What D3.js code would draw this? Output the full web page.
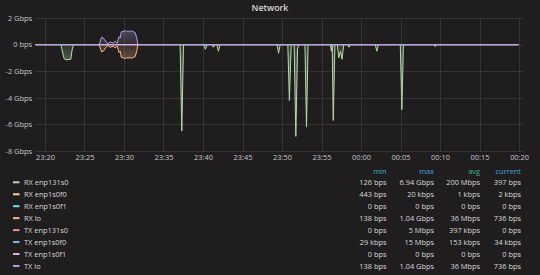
<!DOCTYPE html>
<html>
<head>
<meta charset="utf-8">
<script src="https://cdn.jsdelivr.net/npm/d3@7"></script>
<style>
  html, body { margin: 0; padding: 0; background: #1f1d1e; }
  svg { display: block; font-family: "Open Sans", sans-serif; }
</style>
</head>
<body>
<svg id="chart" width="540" height="275"></svg>
<script>
// ---------------- DATA ----------------
const title = "Network";
const seriesNames = ["RX enp131s0", "RX enp1s0f0", "RX enp1s0f1", "RX lo",
                     "TX enp131s0", "TX enp1s0f0", "TX enp1s0f1", "TX lo"];
// RX is drawn below zero, TX above
const seriesSign = [-1, -1, -1, -1, 1, 1, 1, 1];

// values in Gbps, [time, rate]
const rxEnp131s0 = [
  ["23:18:48",0],
  ["23:22:00",0],["23:22:07",0.3],["23:22:25",1.05],["23:22:40",1.15],["23:23:16",1.1],["23:23:26",0.4],["23:23:37",0],
  ["23:37:06",0],["23:37:19",6.5],["23:37:32",0],
  ["23:40:05",0],["23:40:18",0.35],["23:40:32",0],["23:41:08",0],["23:41:19",0.2],["23:41:30",0],["23:41:45",0],["23:41:57",0.5],["23:42:09",0],
  ["23:49:22",0],["23:49:34",0.65],["23:49:46",0],
  ["23:50:44",0],["23:50:56",4.2],["23:51:10",0],["23:51:32",0],["23:51:45",6.9],["23:51:58",0.3],["23:52:10",0],
  ["23:52:54",0],["23:53:06",6.2],["23:53:18",0],
  ["23:56:08",0],["23:56:15",0.5],["23:56:21",0],["23:56:29",5.7],["23:56:42",0],
  ["23:57:00",0],["23:57:11",1.0],["23:57:24",0.5],["23:57:36",1.1],["23:57:48",0],
  ["23:58:20",0],["23:58:29",0.2],["23:58:38",0],
  ["00:01:48",0],["00:02:00",0.5],["00:02:12",0],
  ["00:04:58",0],["00:05:10",4.9],["00:05:22",0],
  ["00:09:15",0],["00:09:24",0.15],["00:09:33",0],
  ["00:19:54",0]
];
const rxEnp1s0f0 = [["23:18:48",0],["00:19:54",0]];
const rxEnp1s0f1 = [["23:18:48",0],["00:19:54",0]];
const rxLo = [
  ["23:18:48",0],["23:26:51",0],["23:27:10",0.55],["23:27:22",0.5],["23:27:56",0.05],["23:28:15",0.2],
  ["23:28:38",0.12],["23:28:53",0.25],["23:29:08",0.1],["23:29:23",0.6],["23:29:32",0.5],["23:29:39",0.95],
  ["23:29:54",1.0],["23:30:10",1.05],["23:30:20",0.98],["23:30:30",1.04],["23:30:42",0.97],["23:30:55",1.03],
  ["23:31:08",0.98],["23:31:25",0.9],["23:31:37",0.5],["23:31:44",0.05],["23:31:56",0],["00:19:54",0]
];
const txEnp131s0 = [["23:18:48",0],["00:19:54",0]];
const txEnp1s0f0 = [["23:18:48",0],["00:19:54",0]];
const txEnp1s0f1 = [["23:18:48",0],["00:19:54",0]];
const txLo = rxLo;

const seriesValues = [rxEnp131s0, rxEnp1s0f0, rxEnp1s0f1, rxLo, txEnp131s0, txEnp1s0f0, txEnp1s0f1, txLo];

const statMin     = ["126 bps","443 bps","0 bps","138 bps","0 bps","29 kbps","0 bps","138 bps"];
const statMax     = ["6.94 Gbps","20 kbps","0 bps","1.04 Gbps","5 Mbps","15 Mbps","0 bps","1.04 Gbps"];
const statAvg     = ["200 Mbps","1 kbps","0 bps","36 Mbps","397 kbps","153 kbps","0 bps","36 Mbps"];
const statCurrent = ["397 bps","2 kbps","0 bps","736 bps","0 bps","34 kbps","0 bps","736 bps"];
const statHeaders = ["min","max","avg","current"];

const yTickValues = [2, 0, -2, -4, -6, -8];
const xTickLabels = ["23:20","23:25","23:30","23:35","23:40","23:45","23:50","23:55","00:00","00:05","00:10","00:15","00:20"];
const timeStart = "23:18:48", timeEnd = "00:20:30";

// ---------------- STYLE ----------------
const palette = ["#B7DBAB","#F4D598","#70DBED","#F9BA8F","#F29191","#82B5D8","#E5A8E2","#AEA2E0"];
const headerColors = ["#3fb6c4","#4aa6dc","#40b48c","#4aa6dc"];
const plot = {left: 35.5, right: 523, top: 18, bottom: 151};
const fontSize = 7.4;

// ---------------- DRAW ----------------
function parseT(s) {
  const parts = s.split(":").map(Number);
  const h = parts[0], m = parts[1], sec = parts[2] || 0;
  return new Date(2017, 0, h < 12 ? 2 : 1, h, m, sec);
}

const svg = d3.select("#chart");
svg.append("rect").attr("width", 540).attr("height", 275).attr("fill", "#1f1d1e");

const x = d3.scaleTime().domain([parseT(timeStart), parseT(timeEnd)]).range([plot.left, plot.right]);
const y = d3.scaleLinear().domain([-8, 2]).range([plot.bottom, plot.top]);

// title
svg.append("text").attr("x", 270).attr("y", 7.5)
  .attr("text-anchor", "middle").attr("dominant-baseline", "central")
  .attr("fill", "#d8d9da").attr("font-size", 8.8).attr("font-weight", 600)
  .text(title);

const xTicks = xTickLabels.map(parseT);

// grid
const grid = svg.append("g").attr("stroke", "#363436").attr("stroke-width", 1);
grid.selectAll("line.v").data(xTicks).join("line").attr("class", "v")
  .attr("x1", d => Math.round(x(d)) + 0.5).attr("x2", d => Math.round(x(d)) + 0.5)
  .attr("y1", plot.top).attr("y2", plot.bottom);
grid.selectAll("line.h").data(yTickValues).join("line").attr("class", "h")
  .attr("x1", plot.left).attr("x2", plot.right)
  .attr("y1", d => Math.round(y(d)) + 0.5).attr("y2", d => Math.round(y(d)) + 0.5);

// axes
const yAxis = d3.axisLeft(y).tickValues(yTickValues).tickSize(0).tickPadding(3.5)
  .tickFormat(v => v === 0 ? "0 bps" : v + " Gbps");
const gy = svg.append("g").attr("transform", `translate(${plot.left},0)`).call(yAxis);
gy.select(".domain").remove();
gy.selectAll("text").attr("fill", "#c8c8c8").attr("font-size", fontSize).attr("font-family", "Open Sans");

const xAxis = d3.axisBottom(x).tickValues(xTicks).tickSize(0).tickPadding(3.5)
  .tickFormat(d3.timeFormat("%H:%M"));
const gx = svg.append("g").attr("transform", `translate(0,${plot.bottom})`).call(xAxis);
gx.select(".domain").remove();
gx.selectAll("text").attr("fill", "#c8c8c8").attr("font-size", fontSize).attr("font-family", "Open Sans");

// series
const plotG = svg.append("g");
const defs = svg.append("defs");
seriesValues.forEach((vals, i) => {
  const pts = vals.map(([t, v]) => [parseT(t), seriesSign[i] * v]);
  const gradId = "g" + i;
  const grad = defs.append("linearGradient").attr("id", gradId)
    .attr("gradientUnits", "userSpaceOnUse")
    .attr("x1", 0).attr("x2", 0)
    .attr("y1", y(seriesSign[i] > 0 ? 1.1 : -1.1)).attr("y2", y(0));
  grad.append("stop").attr("offset", 0).attr("stop-color", palette[i]).attr("stop-opacity", 0.3);
  grad.append("stop").attr("offset", 1).attr("stop-color", palette[i]).attr("stop-opacity", 0.12);
  const area = d3.area().x(d => x(d[0])).y0(y(0)).y1(d => y(d[1]));
  plotG.append("path").datum(pts).attr("d", area).attr("fill", `url(#${gradId})`);
  const line = d3.line().x(d => x(d[0])).y(d => y(d[1]));
  plotG.append("path").datum(pts).attr("d", line)
    .attr("fill", "none").attr("stroke", palette[i]).attr("stroke-width", 1)
    .attr("stroke-linejoin", "round");
});

// legend
const colX = [386.5, 434, 480, 521];
const legend = svg.append("g").attr("font-size", fontSize);
legend.selectAll("text.h").data(statHeaders).join("text")
  .attr("x", (d, i) => colX[i]).attr("y", 170.7)
  .attr("text-anchor", "end").attr("dominant-baseline", "central")
  .attr("fill", (d, i) => headerColors[i]).text(d => d);

const stats = [statMin, statMax, statAvg, statCurrent];
seriesNames.forEach((name, i) => {
  const cy = 182.3 + i * 11.95;
  legend.append("rect").attr("x", 13).attr("y", cy - 1).attr("width", 6.5).attr("height", 2)
    .attr("fill", palette[i]);
  legend.append("text").attr("x", 24).attr("y", cy).attr("dominant-baseline", "central")
    .attr("fill", "#d8d9da").text(name);
  stats.forEach((col, j) => {
    legend.append("text").attr("x", colX[j]).attr("y", cy)
      .attr("text-anchor", "end").attr("dominant-baseline", "central")
      .attr("fill", "#d8d9da").text(col[i]);
  });
});
</script>
</body>
</html>
